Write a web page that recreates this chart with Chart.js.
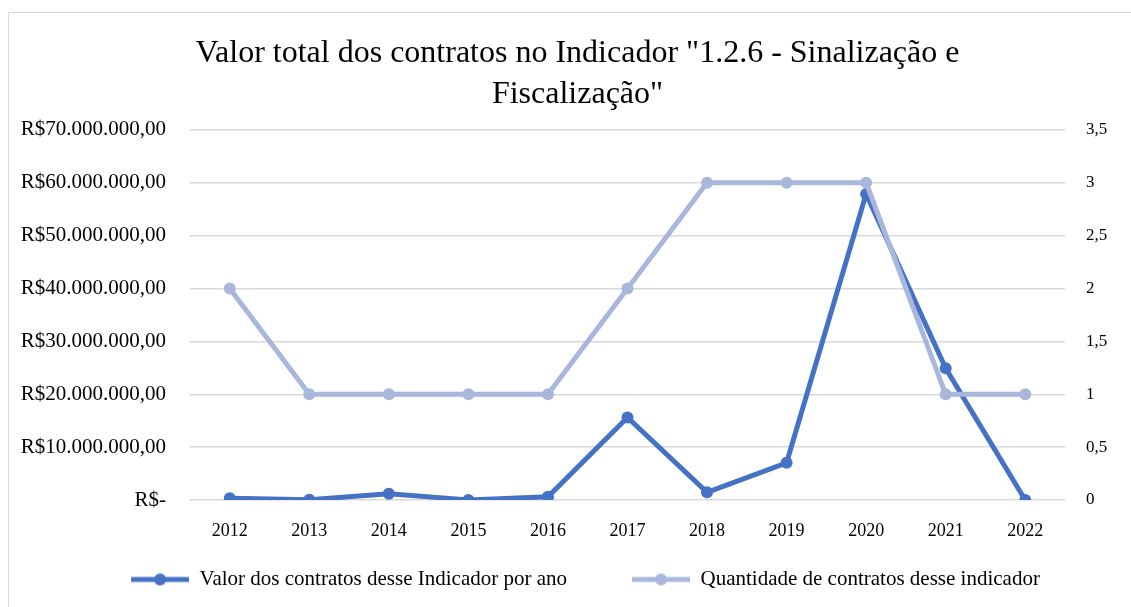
<!DOCTYPE html>
<html>
<head>
<meta charset="utf-8">
<script src="https://cdn.jsdelivr.net/npm/chart.js@4.4.0/dist/chart.umd.min.js"></script>
<style>
  body { margin: 0; background: #fff; }
  #moldura { position: absolute; left: 8px; top: 12px; width: 1200px; height: 700px; border: 1px solid #d9d9d9; }
  #grafico { position: absolute; left: 0; top: 0; }
</style>
</head>
<body>
<div id="moldura"></div>
<canvas id="grafico" width="1131" height="607"></canvas>
<script>
const anos = ['2012', '2013', '2014', '2015', '2016', '2017', '2018', '2019', '2020', '2021', '2022']
const valor_contratos = [320000, 50000, 1200000, 20000, 600000, 15600000, 1450000, 7050000, 57900000, 24900000, 0]
const qntd_contratos = [2, 1, 1, 1, 1, 2, 3, 3, 3, 1, 1]
const ticks_esquerda = ['R$-', 'R$10.000.000,00', 'R$20.000.000,00', 'R$30.000.000,00', 'R$40.000.000,00', 'R$50.000.000,00', 'R$60.000.000,00', 'R$70.000.000,00']
const ticks_direita = ['0', '0,5', '1', '1,5', '2', '2,5', '3', '3,5']

const azul = '#4472c4'
const azul_claro = '#a9b7dc'

// amostra da legenda: linha com bolinha (com um espaço vazio antes, pra separar os itens)
function amostra(cor) {
    let c = document.createElement('canvas')
    c.width = 98
    c.height = 14
    let g = c.getContext('2d')
    g.strokeStyle = cor
    g.lineWidth = 5
    g.beginPath()
    g.moveTo(40, 7)
    g.lineTo(98, 7)
    g.stroke()
    g.fillStyle = cor
    g.beginPath()
    g.arc(69, 7, 6, 0, Math.PI * 2)
    g.fill()
    return c
}
const amostras = [amostra(azul), amostra(azul_claro)]

Chart.defaults.font.family = '"Liberation Serif", "Times New Roman", serif'
Chart.defaults.color = '#000'

let ctx = document.getElementById('grafico')

const data = {
    labels: anos,
    datasets: [{
        label: 'Valor dos contratos desse Indicador por ano',
        data: valor_contratos,
        yAxisID: 'y',
        borderColor: azul,
        backgroundColor: azul,
        borderWidth: 5,
        pointRadius: 6,
        pointHoverRadius: 6,
        pointBorderWidth: 0,
        order: 1
    }, {
        label: 'Quantidade de contratos desse indicador',
        data: qntd_contratos,
        yAxisID: 'y1',
        borderColor: azul_claro,
        backgroundColor: azul_claro,
        borderWidth: 5,
        pointRadius: 6,
        pointHoverRadius: 6,
        pointBorderWidth: 0,
        order: 0
    }]
}

// espaços no começo so pra deslocar o titulo um pouco pra direita
const recuo = '\u00a0\u00a0\u00a0'

const config = {
    type: 'line',
    data,
    options: {
        responsive: false,
        animation: false,
        layout: { padding: { left: 0, right: 0, top: 0, bottom: 7 } },
        plugins: {
            title: {
                display: true,
                text: [recuo + 'Valor total dos contratos no Indicador "1.2.6 - Sinalização e', recuo + 'Fiscalização"'],
                font: { size: 32, weight: 'normal', lineHeight: 1.28 },
                padding: { top: 33.5, bottom: 14.5 },
                color: '#000'
            },
            legend: {
                position: 'bottom',
                labels: {
                    usePointStyle: true,
                    pointStyleWidth: 98,
                    padding: 25,
                    font: { size: 21 },
                    generateLabels: (chart) => {
                        return chart.data.datasets.map((ds, i) => ({
                            text: ds.label,
                            pointStyle: amostras[i],
                            datasetIndex: i,
                            fontColor: '#000',
                            lineWidth: 0,
                            strokeStyle: 'transparent',
                            fillStyle: 'transparent'
                        }))
                    }
                }
            },
            tooltip: { enabled: false }
        },
        scales: {
            x: {
                offset: true,
                grid: { display: false, drawTicks: false },
                border: { display: false },
                afterFit: (axis) => { axis.height = 44 },
                ticks: { font: { size: 18 }, padding: 20, maxRotation: 0 }
            },
            y: {
                position: 'left',
                min: 0,
                max: 70000000,
                grid: { color: '#d9d9d9', lineWidth: 1.5, drawTicks: false },
                border: { display: false },
                afterFit: (axis) => { axis.width = 190 },
                ticks: {
                    stepSize: 10000000,
                    padding: 24,
                    font: { size: 21 },
                    callback: (v, i) => ticks_esquerda[i]
                }
            },
            y1: {
                position: 'right',
                min: 0,
                max: 3.5,
                grid: { display: false, drawTicks: false },
                border: { display: false },
                afterFit: (axis) => { axis.width = 66 },
                ticks: {
                    stepSize: 0.5,
                    padding: 21,
                    font: { size: 17 },
                    callback: (v, i) => ticks_direita[i]
                }
            }
        }
    }
}

const graph = new Chart(ctx, config)
</script>
</body>
</html>
